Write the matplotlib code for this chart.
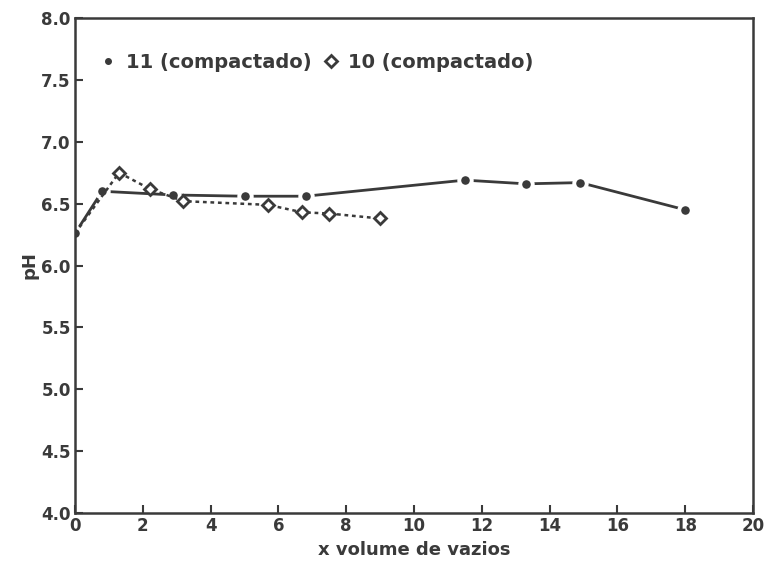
import matplotlib
matplotlib.use('Agg')
import matplotlib.pyplot as plt
from matplotlib.lines import Line2D

# serie 11 (compactado) - pontos
x11 = [0.0, 0.8, 2.9, 5.0, 6.8, 11.5, 13.3, 14.9, 18.0]
ph11 = [6.26, 6.60, 6.57, 6.56, 6.56, 6.69, 6.66, 6.67, 6.45]

# serie 10 (compactado) - losangos
x10 = [0.0, 1.3, 2.2, 3.2, 5.7, 6.7, 7.5, 9.0]
ph10 = [6.26, 6.75, 6.62, 6.52, 6.49, 6.43, 6.42, 6.38]

xticks = [0, 2, 4, 6, 8, 10, 12, 14, 16, 18, 20]
yticks = [4.0, 4.5, 5.0, 5.5, 6.0, 6.5, 7.0, 7.5, 8.0]

plt.rcParams['font.family'] = 'DejaVu Sans'
plt.rcParams['font.weight'] = 'bold'
ink = '#3a3a3a'

fig = plt.figure(figsize=(7.67, 5.74), dpi=100)
ax = fig.add_axes([0.0978, 0.1063, 0.8840, 0.8623])

ax.plot(x11, ph11, color=ink, lw=2.0, ls='-', marker='o', ms=9, mfc=ink, mec='white', mew=2.8)
ax.plot(x10, ph10, color=ink, lw=1.8, ls=(0, (1.5, 1.5)), marker='D', ms=6, mfc='white',
        mec=ink, mew=2, markevery=list(range(1, len(x10))))

ax.set_xlim(0, 20)
ax.set_ylim(4.0, 8.0)
ax.set_xticks(xticks)
ax.set_yticks(yticks)
ax.set_xticklabels([str(t) for t in xticks])
ax.set_yticklabels(['%.1f' % t for t in yticks])
ax.tick_params(direction='in', length=6, width=1.5, colors=ink, labelsize=12, pad=3)
for s in ax.spines.values():
    s.set_color(ink)
    s.set_linewidth(1.8)

ax.set_xlabel('x volume de vazios', fontsize=13, fontweight='bold', color=ink, labelpad=4)
ax.set_ylabel('pH', fontsize=13, fontweight='bold', color=ink, labelpad=2)

handles = [
    Line2D([], [], ls='none', marker='o', ms=4, color=ink),
    Line2D([], [], ls='none', marker='D', ms=6, mfc='white', mec=ink, mew=2),
]
leg = ax.legend(handles, ['11 (compactado)', '10 (compactado)'], ncol=2, frameon=False,
                loc='upper left', bbox_to_anchor=(0.012, 0.965), handlelength=0.8,
                handletextpad=0.5, columnspacing=0.6, fontsize=14)
for t in leg.get_texts():
    t.set_color(ink)

fig.savefig('out.png', dpi=100)
